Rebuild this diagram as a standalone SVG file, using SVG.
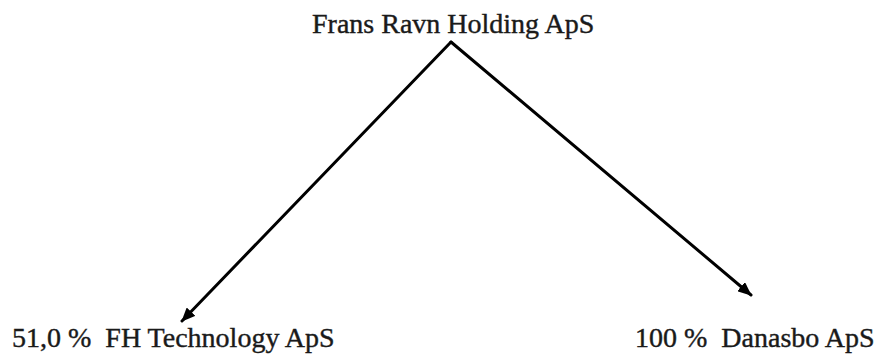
<svg xmlns="http://www.w3.org/2000/svg" width="888" height="360" viewBox="0 0 888 360">
  <style>
    .lbl { font-family: "Liberation Serif", "Times New Roman", serif; font-size: 28px; fill: #1a1a1a; stroke: #1a1a1a; stroke-width: 0.4; white-space: pre; }
    .conn { stroke: #000; stroke-width: 3; fill: none; stroke-linecap: round; stroke-linejoin: miter; }
  </style>
  <defs>
    <marker id="arr" viewBox="0 0 14 12" refX="13" refY="6" markerWidth="14" markerHeight="12" markerUnits="userSpaceOnUse" orient="auto">
      <path d="M0,0 L14,6 L0,12 Z" fill="#000"/>
    </marker>
  </defs>
  <rect width="888" height="360" fill="#fff"/>
  <g id="connectors">
    <path class="conn" d="M451,42 L182,321" marker-end="url(#arr)"/>
    <path class="conn" d="M451,42 L751,295" marker-end="url(#arr)"/>
  </g>
  <g id="node-holding">
    <text class="lbl" x="312" y="33">Frans Ravn Holding ApS</text>
  </g>
  <g id="node-fh">
    <text class="lbl" x="12" y="347" xml:space="preserve">51,0 %  FH Technology ApS</text>
  </g>
  <g id="node-danasbo">
    <text class="lbl" x="635" y="347" xml:space="preserve">100 %  Danasbo ApS</text>
  </g>
</svg>
